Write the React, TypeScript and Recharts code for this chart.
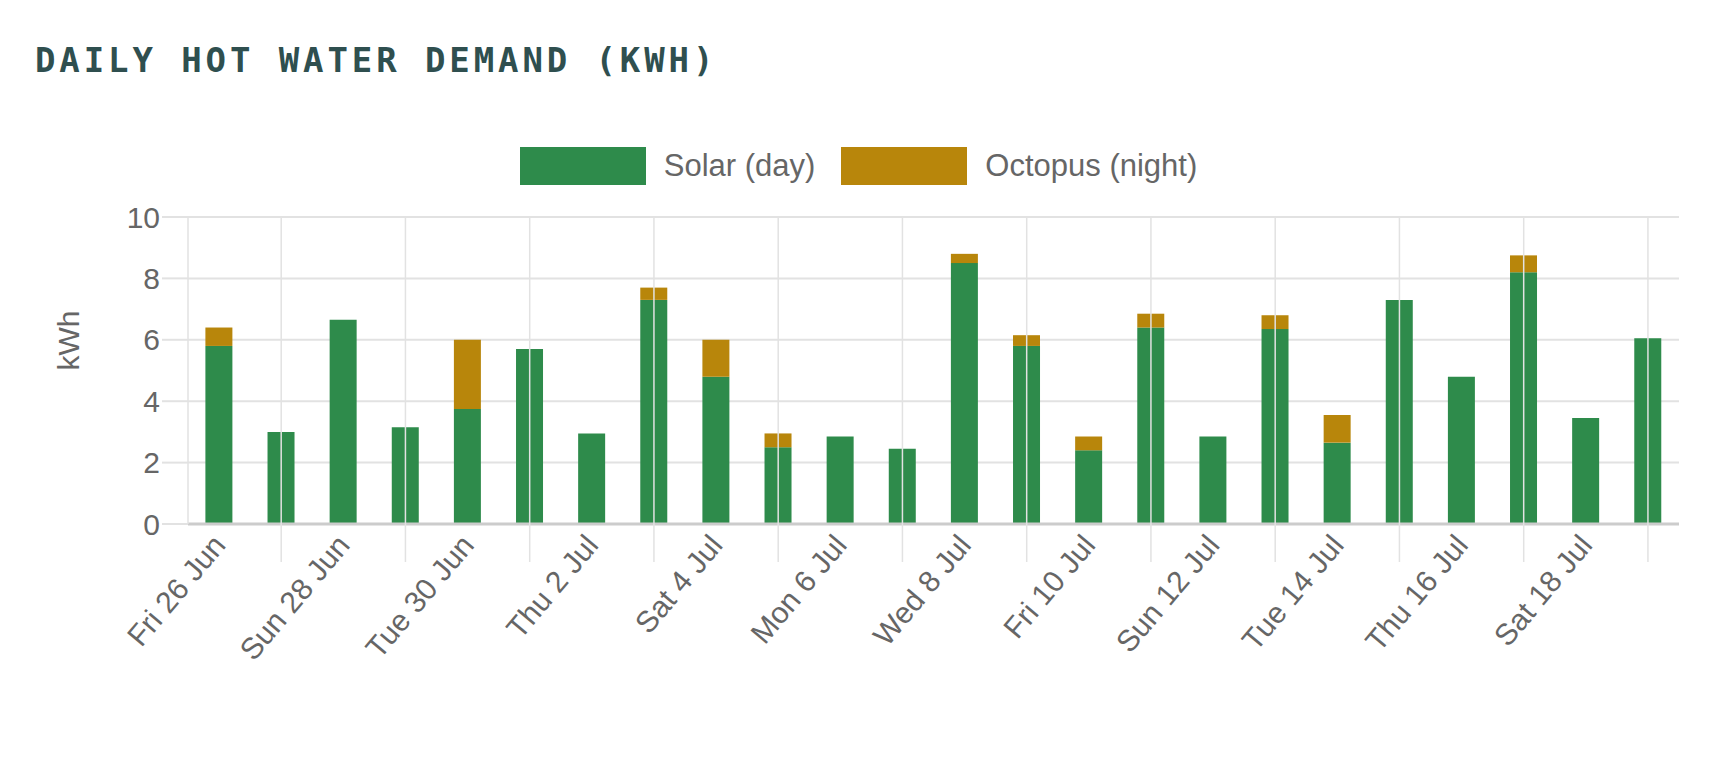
import { Bar, BarChart, CartesianGrid, XAxis, YAxis } from "recharts";

const days = [
  "Fri 26 Jun", "Sat 27 Jun", "Sun 28 Jun", "Mon 29 Jun", "Tue 30 Jun", "Wed 1 Jul",
  "Thu 2 Jul", "Fri 3 Jul", "Sat 4 Jul", "Sun 5 Jul", "Mon 6 Jul", "Tue 7 Jul",
  "Wed 8 Jul", "Thu 9 Jul", "Fri 10 Jul", "Sat 11 Jul", "Sun 12 Jul", "Mon 13 Jul",
  "Tue 14 Jul", "Wed 15 Jul", "Thu 16 Jul", "Fri 17 Jul", "Sat 18 Jul", "Sun 19 Jul",
];
const solar = [5.8, 3.0, 6.65, 3.15, 3.75, 5.7, 2.95, 7.3, 4.8, 2.5, 2.85, 2.45, 8.5, 5.8, 2.4, 6.4, 2.85, 6.35, 2.65, 7.3, 4.8, 8.2, 3.45, 6.05];
const octopus = [0.6, 0, 0, 0, 2.25, 0, 0, 0.4, 1.2, 0.45, 0, 0, 0.3, 0.35, 0.45, 0.45, 0, 0.45, 0.9, 0, 0, 0.55, 0, 0];
const yTicks = [0, 2, 4, 6, 8, 10];
const series = [
  { key: "solar", name: "Solar (day)", color: "#2e8b4b" },
  { key: "octopus", name: "Octopus (night)", color: "#b8860b" },
];

const TEXT = "#666";
const GRID = "#e2e2e2";
const FONT = "Liberation Sans, Arial, sans-serif";
const PLOT_H = 307;
const BAND = 1491 / 24;

const data = days.map((day, i) => ({ day, solar: solar[i], octopus: octopus[i] }));

function DayTick({ x, y, index, payload }: any) {
  if (index % 2 === 1) {
    return <line x1={x} x2={x} y1={y - PLOT_H} y2={y + 38} stroke={GRID} strokeWidth={1.5} />;
  }
  return (
    <g>
      {index === 0 && (
        <line x1={x - BAND / 2} x2={x - BAND / 2} y1={y - PLOT_H} y2={y} stroke={GRID} strokeWidth={1.5} />
      )}
      <text
        x={x + 8}
        y={y + 22}
        textAnchor="end"
        fill={TEXT}
        fontSize={30}
        fontFamily={FONT}
        transform={`rotate(-50, ${x + 8}, ${y + 22})`}
      >
        {payload.value}
      </text>
    </g>
  );
}

export default function App() {
  return (
    <div style={{ position: "absolute", left: 0, top: 0, width: 1717, height: 773, background: "#fff" }}>
      <div
        style={{
          position: "absolute",
          left: 35,
          top: 40,
          fontFamily: "DejaVu Sans Mono, monospace",
          fontWeight: "bold",
          fontSize: 34,
          letterSpacing: 3.9,
          color: "#2f4f4f",
        }}
      >
        DAILY HOT WATER DEMAND (KWH)
      </div>
      <div
        style={{
          position: "absolute",
          top: 147,
          left: 0,
          width: 1717,
          display: "flex",
          justifyContent: "center",
          gap: 26,
          fontFamily: FONT,
        }}
      >
        {series.map((s) => (
          <div key={s.key} style={{ display: "flex", alignItems: "center", gap: 18 }}>
            <div style={{ width: 126, height: 38, background: s.color }} />
            <span style={{ fontSize: 31, color: TEXT }}>{s.name}</span>
          </div>
        ))}
      </div>
      <BarChart
        width={1717}
        height={773}
        data={data}
        barCategoryGap="28%"
        margin={{ top: 217, right: 38, bottom: 0, left: 118 }}
      >
        <CartesianGrid vertical={false} stroke={GRID} strokeWidth={2} />
        <XAxis
          dataKey="day"
          interval={0}
          tickSize={0}
          tickMargin={0}
          tick={<DayTick />}
          axisLine={{ stroke: "#ccc", strokeWidth: 3 }}
          height={249}
        />
        <YAxis
          domain={[0, 10]}
          ticks={yTicks}
          width={70}
          tickSize={26}
          tickLine={{ stroke: GRID, strokeWidth: 2 }}
          axisLine={false}
          tick={{ fill: TEXT, fontSize: 30, fontFamily: FONT }}
          label={{
            value: "kWh",
            angle: -90,
            position: "insideLeft",
            offset: -50,
            fill: TEXT,
            fontSize: 30,
            fontFamily: FONT,
          }}
        />
        {series.map((s) => (
          <Bar key={s.key} dataKey={s.key} name={s.name} stackId="a" fill={s.color} isAnimationActive={false} />
        ))}
      </BarChart>
    </div>
  );
}
